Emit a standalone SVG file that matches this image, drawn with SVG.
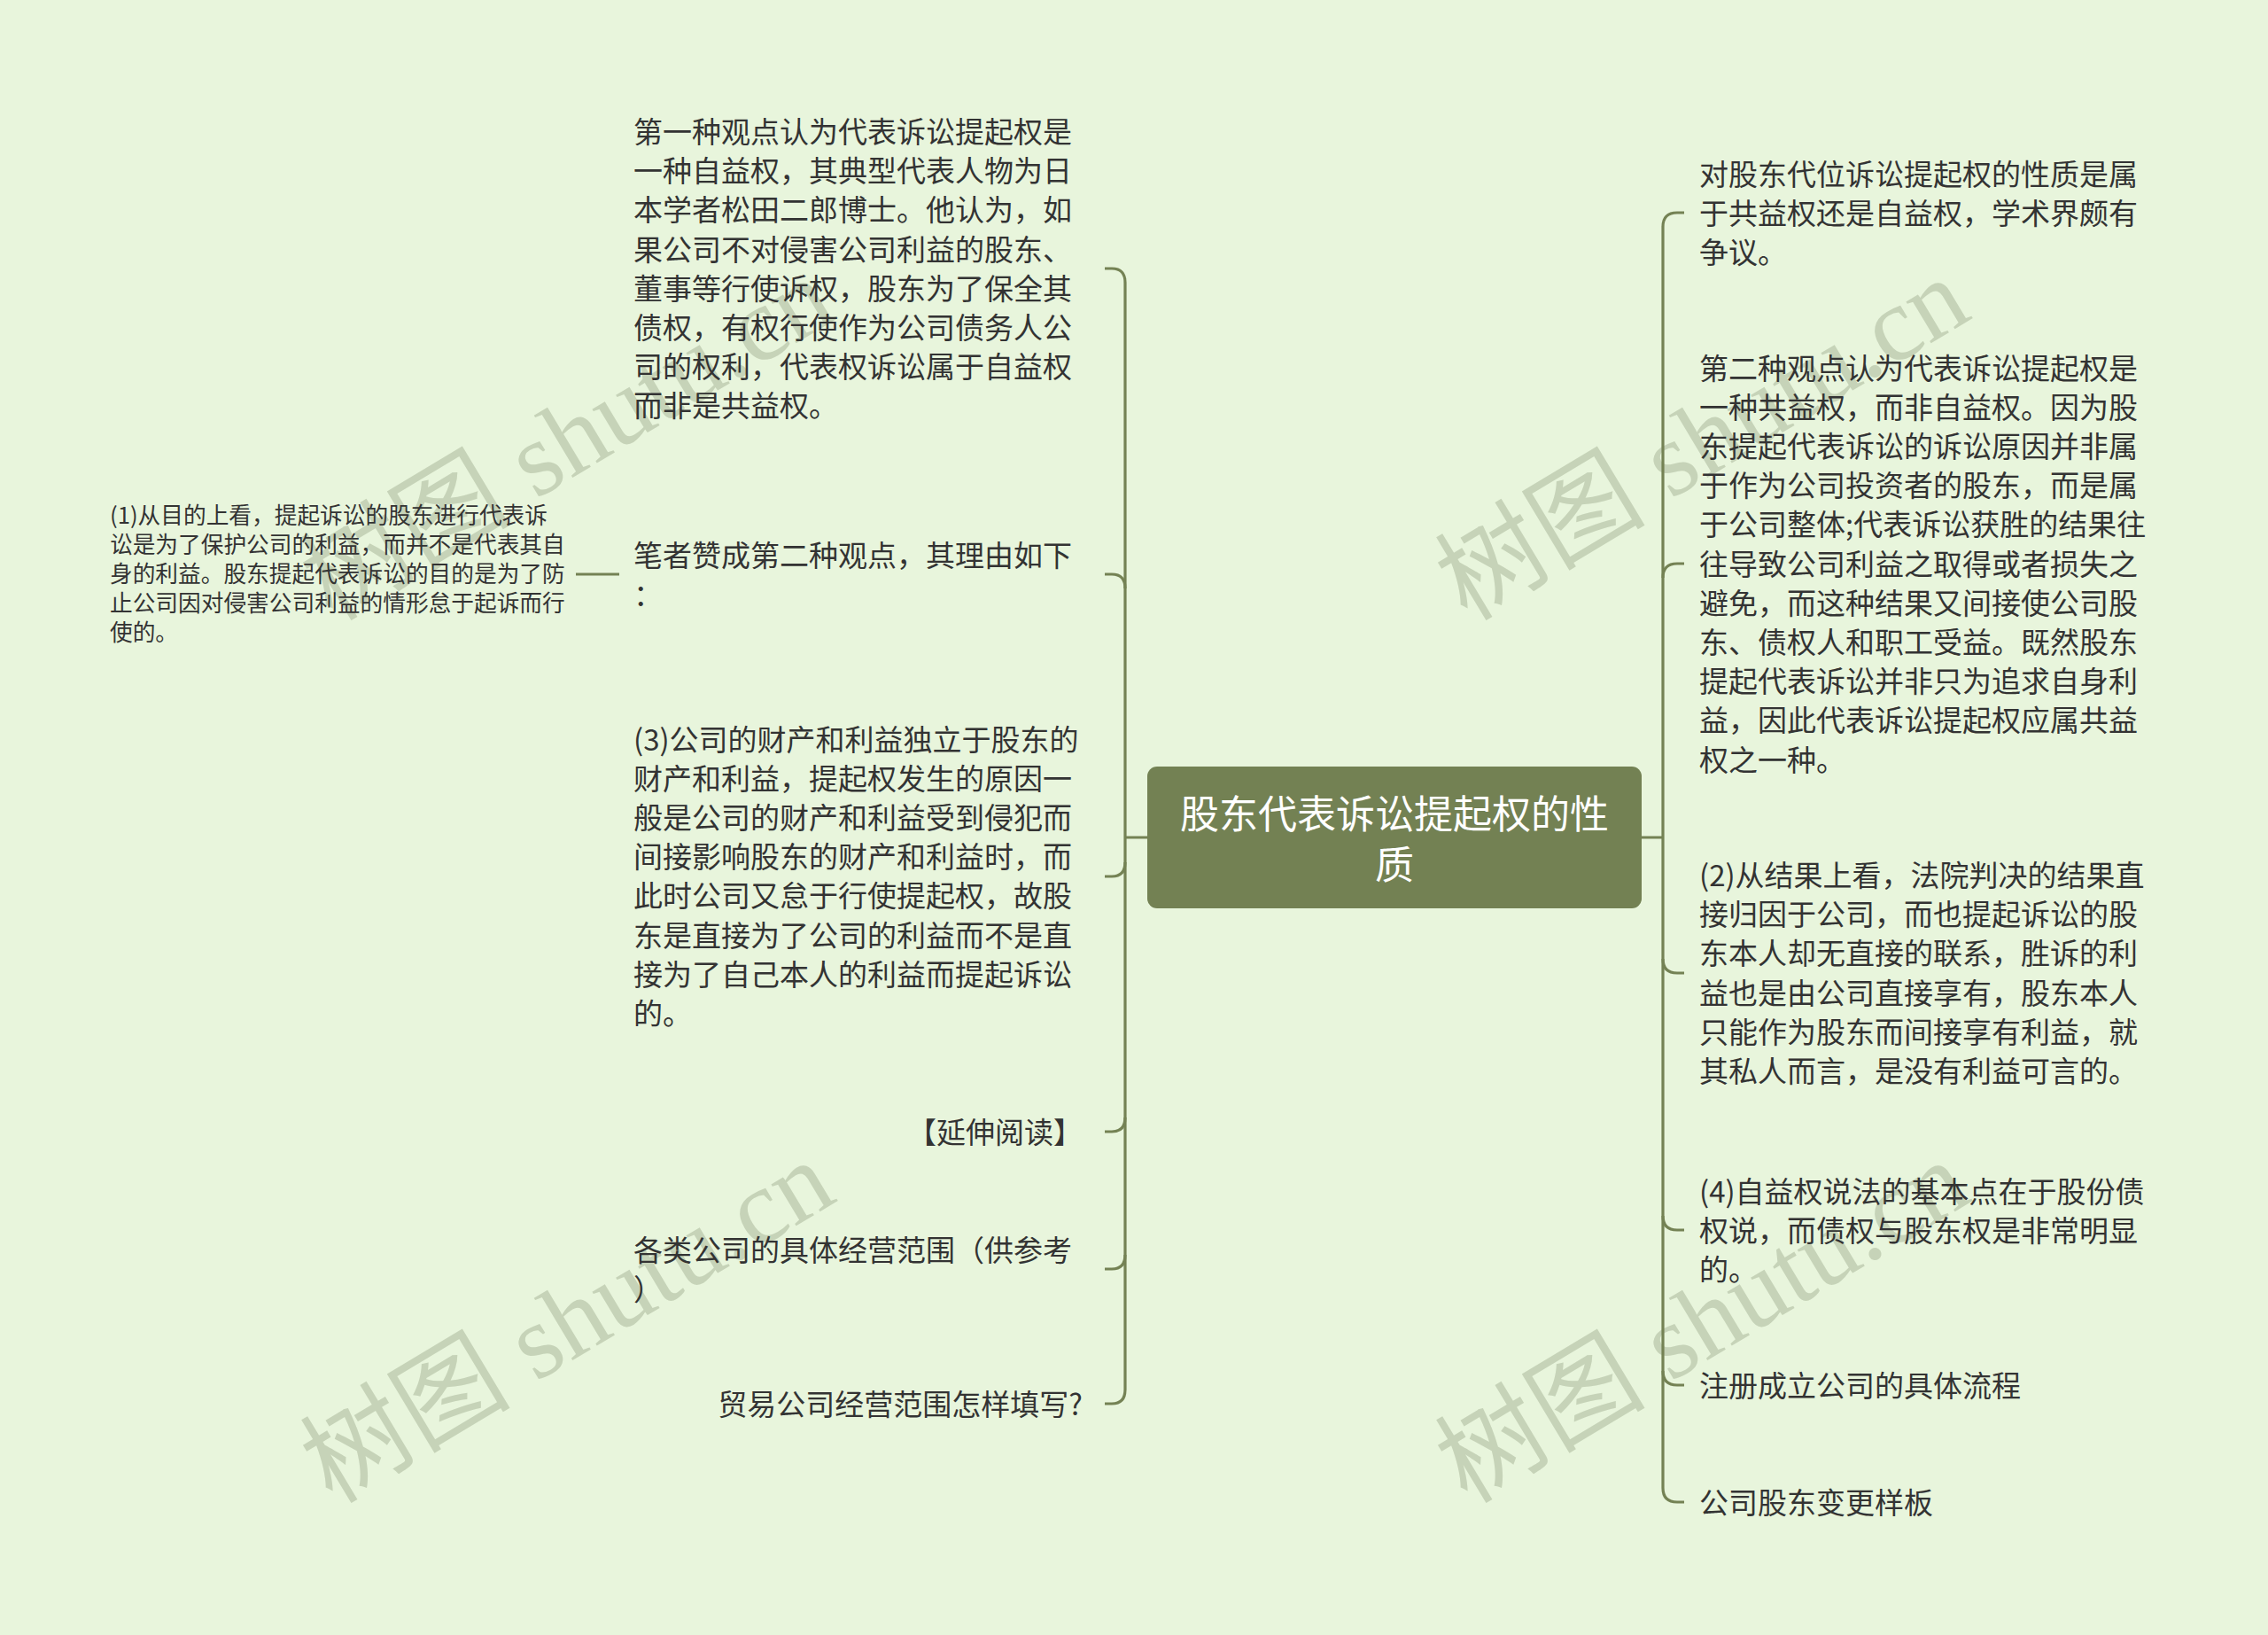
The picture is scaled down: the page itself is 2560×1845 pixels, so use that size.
<svg xmlns="http://www.w3.org/2000/svg" width="2560" height="1845" viewBox="0 0 2560 1845">
<style>
.bg{fill:#e8f5dc}
.t{font-family:"Noto Sans CJK SC","Noto Sans",sans-serif;font-size:33px;fill:#333333}
.s{font-size:25.7px}
.e{text-anchor:end}
.c{font-family:"Noto Sans CJK SC","Noto Sans",sans-serif;font-size:44px;fill:#ffffff;text-anchor:middle}
.ln{fill:none;stroke:#748254;stroke-width:3.2;stroke-linecap:butt}
.wm{font-family:"Liberation Serif","Noto Sans CJK SC",serif;font-size:119px;fill:#c6d3b8}
</style>
<rect class="bg" x="0" y="0" width="2560" height="1845"/>
<g id="watermarks">
<text class="wm" x="375" y="702" transform="rotate(-31 375 702)">树图 shutu.cn</text>
<text class="wm" x="375" y="1698" transform="rotate(-31 375 1698)">树图 shutu.cn</text>
<text class="wm" x="1656" y="702" transform="rotate(-31 1656 702)">树图 shutu.cn</text>
<text class="wm" x="1656" y="1698" transform="rotate(-31 1656 1698)">树图 shutu.cn</text>
</g>
<g id="connectors">
<path class="ln" d="M1270,945 H1295 M1853,945 H1877"/>
<path class="ln" d="M1270,319 V1568"/>
<path class="ln" d="M1247,303 H1255 Q1270,303 1270,319"/>
<path class="ln" d="M1247,648 H1255 Q1270,648 1270,664"/>
<path class="ln" d="M1247,989 H1255 Q1270,989 1270,973"/>
<path class="ln" d="M1247,1277 H1255 Q1270,1277 1270,1261"/>
<path class="ln" d="M1247,1432 H1255 Q1270,1432 1270,1416"/>
<path class="ln" d="M1247,1584 H1255 Q1270,1584 1270,1568"/>
<path class="ln" d="M650,648 H699"/>
<path class="ln" d="M1877,256 V1679"/>
<path class="ln" d="M1901,240 H1893 Q1877,240 1877,256"/>
<path class="ln" d="M1901,636 H1893 Q1877,636 1877,652"/>
<path class="ln" d="M1901,1098 H1893 Q1877,1098 1877,1082"/>
<path class="ln" d="M1901,1388 H1893 Q1877,1388 1877,1372"/>
<path class="ln" d="M1901,1563 H1893 Q1877,1563 1877,1547"/>
<path class="ln" d="M1901,1695 H1893 Q1877,1695 1877,1679"/>
</g>
<g id="root">
<rect x="1295" y="865" width="558" height="160" rx="11" fill="#738153"/>
<text class="c" x="1574" y="934.7">股东代表诉讼提起权的性<tspan x="1574" dy="57">质</tspan></text>
</g>
<g id="left1">
<text class="t" x="715" y="161"><tspan x="715">第一种观点认为代表诉讼提起权是</tspan><tspan x="715" dy="44.2">一种自益权，其典型代表人物为日</tspan><tspan x="715" dy="44.2">本学者松田二郎博士。他认为，如</tspan><tspan x="715" dy="44.2">果公司不对侵害公司利益的股东、</tspan><tspan x="715" dy="44.2">董事等行使诉权，股东为了保全其</tspan><tspan x="715" dy="44.2">债权，有权行使作为公司债务人公</tspan><tspan x="715" dy="44.2">司的权利，代表权诉讼属于自益权</tspan><tspan x="715" dy="44.2">而非是共益权。</tspan></text>
</g>
<g id="left2">
<text class="t" x="715" y="638.5"><tspan x="715">笔者赞成第二种观点，其理由如下</tspan><tspan x="715" dy="44.2">：</tspan></text>
</g>
<g id="left2a">
<text class="t s" x="124" y="591"><tspan x="124">(1)从目的上看，提起诉讼的股东进行代表诉</tspan><tspan x="124" dy="33">讼是为了保护公司的利益，而并不是代表其自</tspan><tspan x="124" dy="33">身的利益。股东提起代表诉讼的目的是为了防</tspan><tspan x="124" dy="33">止公司因对侵害公司利益的情形怠于起诉而行</tspan><tspan x="124" dy="33">使的。</tspan></text>
</g>
<g id="left3">
<text class="t" x="715" y="846.5"><tspan x="715">(3)公司的财产和利益独立于股东的</tspan><tspan x="715" dy="44.2">财产和利益，提起权发生的原因一</tspan><tspan x="715" dy="44.2">般是公司的财产和利益受到侵犯而</tspan><tspan x="715" dy="44.2">间接影响股东的财产和利益时，而</tspan><tspan x="715" dy="44.2">此时公司又怠于行使提起权，故股</tspan><tspan x="715" dy="44.2">东是直接为了公司的利益而不是直</tspan><tspan x="715" dy="44.2">接为了自己本人的利益而提起诉讼</tspan><tspan x="715" dy="44.2">的。</tspan></text>
</g>
<g id="left4">
<text class="t e" x="1222" y="1289.5">【延伸阅读】</text>
</g>
<g id="left5">
<text class="t" x="715" y="1422.5"><tspan x="715">各类公司的具体经营范围（供参考</tspan><tspan x="715" dy="44.2">）</tspan></text>
</g>
<g id="left6">
<text class="t e" x="1222" y="1597">贸易公司经营范围怎样填写?</text>
</g>
<g id="right1">
<text class="t" x="1918" y="208.5"><tspan x="1918">对股东代位诉讼提起权的性质是属</tspan><tspan x="1918" dy="44.2">于共益权还是自益权，学术界颇有</tspan><tspan x="1918" dy="44.2">争议。</tspan></text>
</g>
<g id="right2">
<text class="t" x="1918" y="427.5"><tspan x="1918">第二种观点认为代表诉讼提起权是</tspan><tspan x="1918" dy="44.2">一种共益权，而非自益权。因为股</tspan><tspan x="1918" dy="44.2">东提起代表诉讼的诉讼原因并非属</tspan><tspan x="1918" dy="44.2">于作为公司投资者的股东，而是属</tspan><tspan x="1918" dy="44.2">于公司整体;代表诉讼获胜的结果往</tspan><tspan x="1918" dy="44.2">往导致公司利益之取得或者损失之</tspan><tspan x="1918" dy="44.2">避免，而这种结果又间接使公司股</tspan><tspan x="1918" dy="44.2">东、债权人和职工受益。既然股东</tspan><tspan x="1918" dy="44.2">提起代表诉讼并非只为追求自身利</tspan><tspan x="1918" dy="44.2">益，因此代表诉讼提起权应属共益</tspan><tspan x="1918" dy="44.2">权之一种。</tspan></text>
</g>
<g id="right3">
<text class="t" x="1918" y="1000"><tspan x="1918">(2)从结果上看，法院判决的结果直</tspan><tspan x="1918" dy="44.2">接归因于公司，而也提起诉讼的股</tspan><tspan x="1918" dy="44.2">东本人却无直接的联系，胜诉的利</tspan><tspan x="1918" dy="44.2">益也是由公司直接享有，股东本人</tspan><tspan x="1918" dy="44.2">只能作为股东而间接享有利益，就</tspan><tspan x="1918" dy="44.2">其私人而言，是没有利益可言的。</tspan></text>
</g>
<g id="right4">
<text class="t" x="1918" y="1356.5"><tspan x="1918">(4)自益权说法的基本点在于股份债</tspan><tspan x="1918" dy="44.2">权说，而债权与股东权是非常明显</tspan><tspan x="1918" dy="44.2">的。</tspan></text>
</g>
<g id="right5">
<text class="t" x="1918" y="1575.5">注册成立公司的具体流程</text>
</g>
<g id="right6">
<text class="t" x="1918" y="1707.5">公司股东变更样板</text>
</g>
</svg>
